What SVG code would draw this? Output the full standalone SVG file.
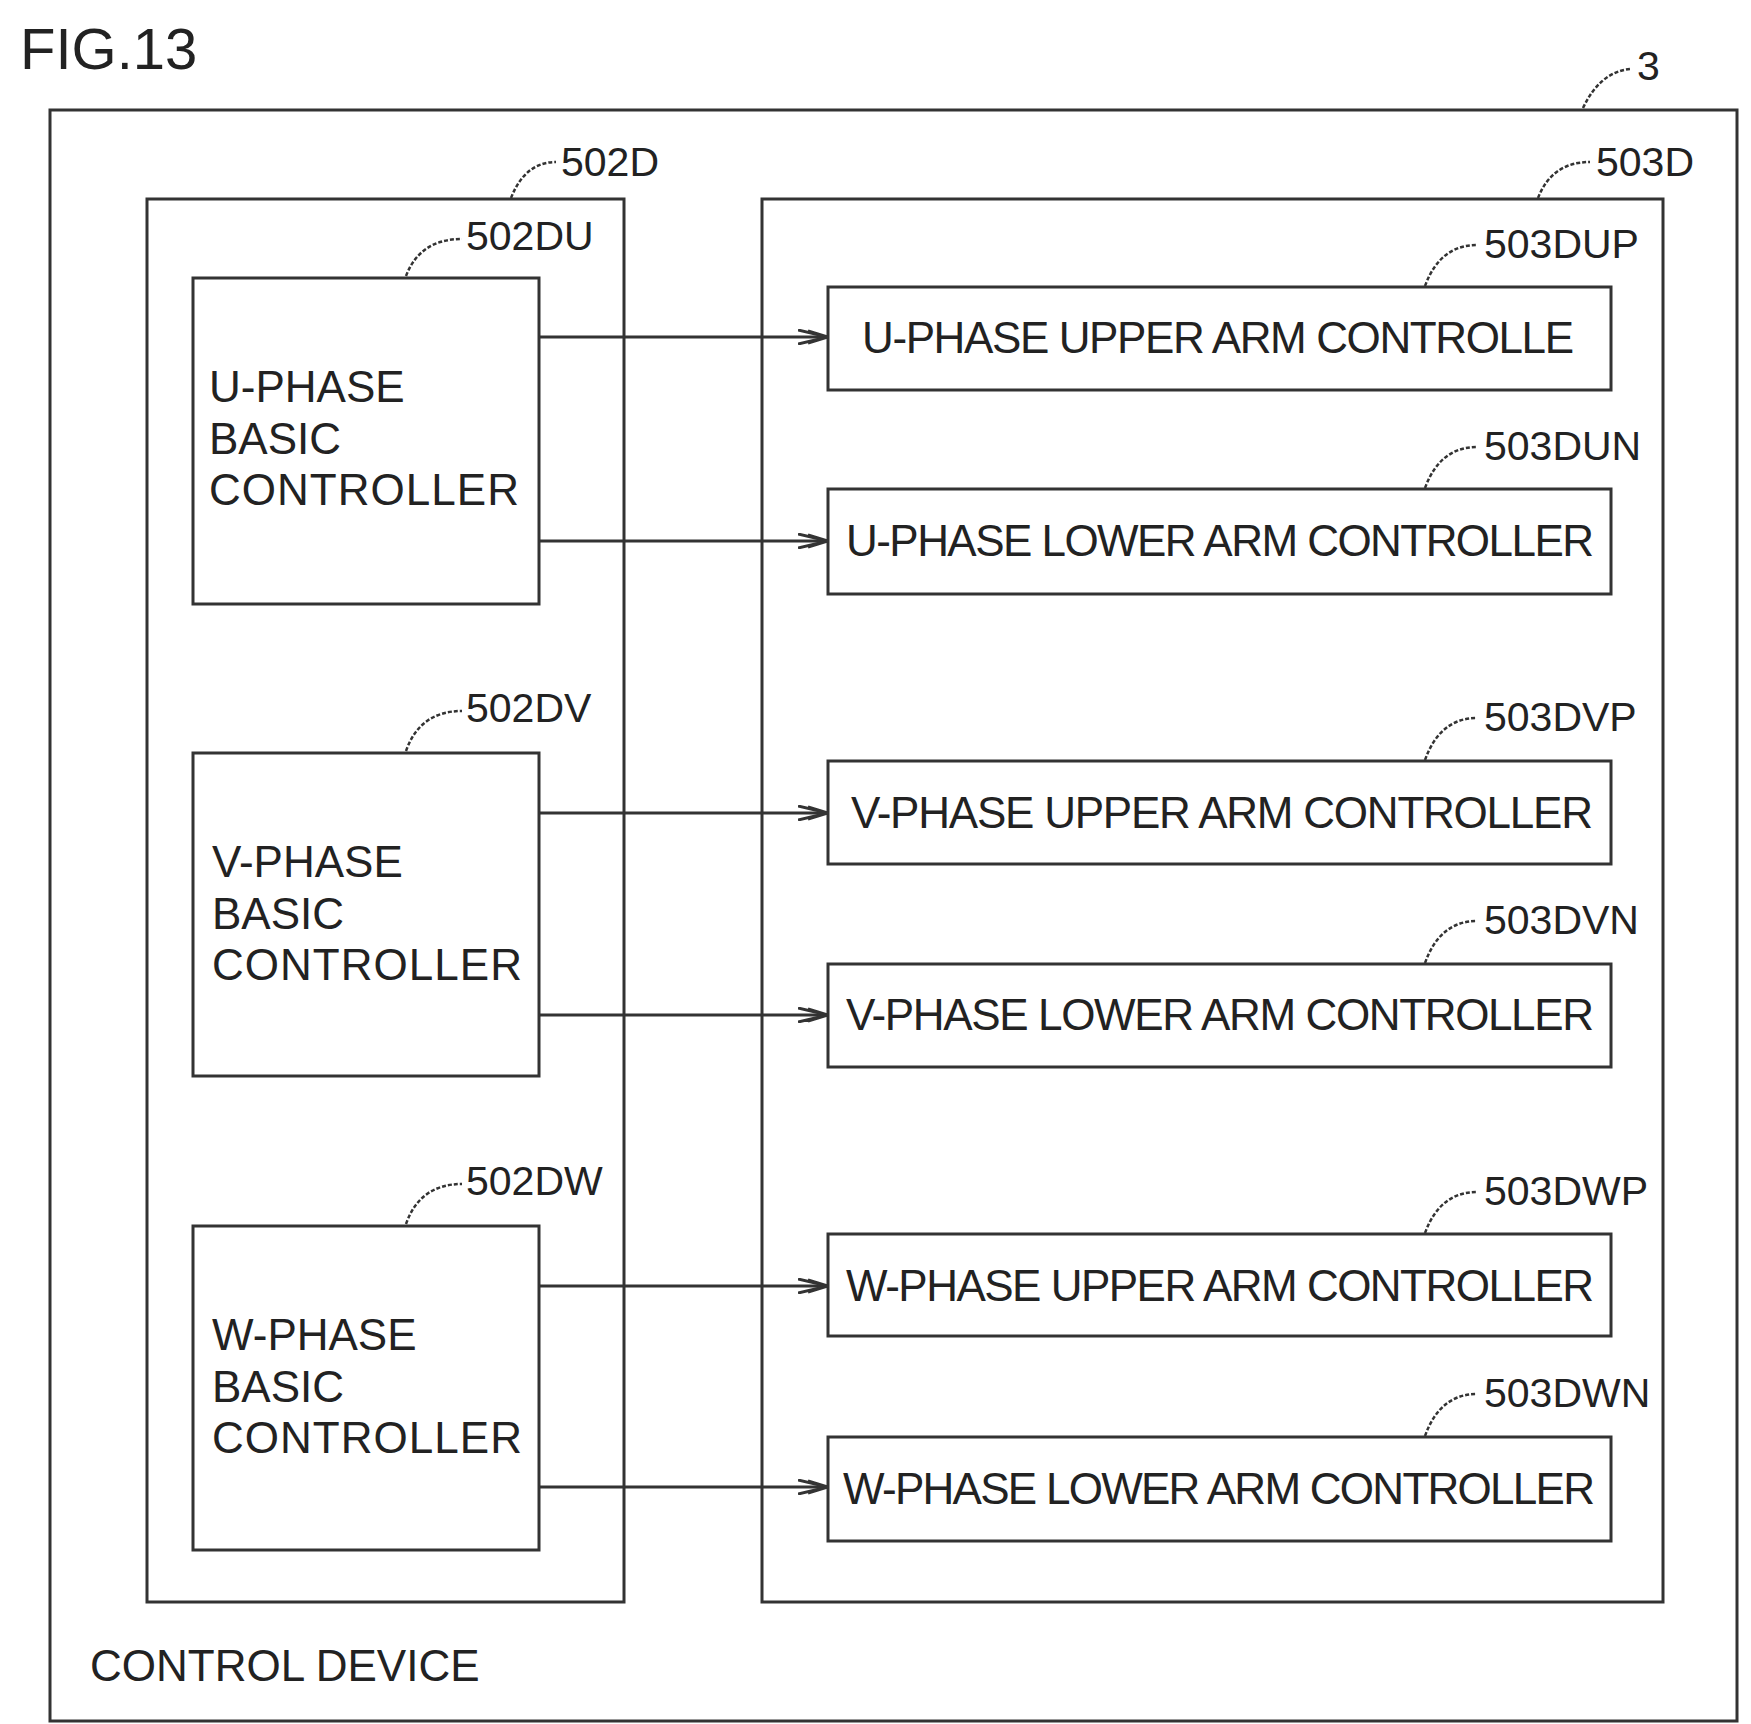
<svg xmlns="http://www.w3.org/2000/svg" width="1751" height="1724" viewBox="0 0 1751 1724">
<style>
.b{fill:none;stroke:#333;stroke-width:3}
.t{font-family:"Liberation Sans",Arial,sans-serif;font-size:44px;fill:#222}
.r{font-family:"Liberation Sans",Arial,sans-serif;font-size:41px;fill:#222}
.l{fill:none;stroke:#333;stroke-width:2.5;stroke-dasharray:4 2}
.c{fill:none;stroke:#333;stroke-width:3}
</style>
<defs><marker id="a" viewBox="0 0 30 16" refX="30" refY="8" markerWidth="30" markerHeight="16" markerUnits="userSpaceOnUse" orient="auto"><path d="M0,1 L30,8 L0,15 M10,2 L30,8 L10,14" fill="none" stroke="#333" stroke-width="3"/></marker></defs>
<rect width="1751" height="1724" fill="#fff"/>
<text x="20" y="69" font-family="Liberation Sans,Arial,sans-serif" font-size="58" fill="#222">FIG.13</text>
<g id="n3"><rect class="b" x="50" y="110" width="1687" height="1611"/>
<text class="r" x="1637" y="80">3</text><path class="l" d="M1583,108 Q1600,72 1630,69"/>
<text class="t" x="90" y="1681">CONTROL DEVICE</text></g>
<g id="n502D"><rect class="b" x="147" y="199" width="477" height="1403"/>
<text class="r" x="561" y="176">502D</text><path class="l" d="M511,198 Q525,162 556,162"/></g>
<g id="n503D"><rect class="b" x="762" y="199" width="901" height="1403"/>
<text class="r" x="1596" y="176">503D</text><path class="l" d="M1538,198 Q1552,162 1590,162"/></g>
<g id="n502DU"><rect class="b" x="193" y="278" width="346" height="326"/>
<text class="t" x="209" y="402">U-PHASE</text><text class="t" x="209" y="454">BASIC</text><text class="t" x="209" y="505" textLength="310">CONTROLLER</text>
<text class="r" x="466" y="250">502DU</text><path class="l" d="M406,276 Q420,239 462,239"/></g>
<g id="n502DV"><rect class="b" x="193" y="753" width="346" height="323"/>
<text class="t" x="212" y="877">V-PHASE</text><text class="t" x="212" y="929">BASIC</text><text class="t" x="212" y="980" textLength="310">CONTROLLER</text>
<text class="r" x="466" y="722">502DV</text><path class="l" d="M406,751 Q420,711 462,711"/></g>
<g id="n502DW"><rect class="b" x="193" y="1226" width="346" height="324"/>
<text class="t" x="212" y="1350">W-PHASE</text><text class="t" x="212" y="1402">BASIC</text><text class="t" x="212" y="1453" textLength="310">CONTROLLER</text>
<text class="r" x="466" y="1195">502DW</text><path class="l" d="M406,1224 Q420,1184 462,1184"/></g>
<g id="n503DUP"><rect class="b" x="828" y="287" width="783" height="103"/>
<text class="t" x="862" y="353" textLength="712">U-PHASE UPPER ARM CONTROLLE</text>
<text class="r" x="1484" y="258">503DUP</text><path class="l" d="M1425,286 Q1440,245 1477,245"/></g>
<g id="n503DUN"><rect class="b" x="828" y="489" width="783" height="105"/>
<text class="t" x="846" y="556" textLength="748">U-PHASE LOWER ARM CONTROLLER</text>
<text class="r" x="1484" y="460">503DUN</text><path class="l" d="M1425,488 Q1440,447 1477,447"/></g>
<g id="n503DVP"><rect class="b" x="828" y="761" width="783" height="103"/>
<text class="t" x="851" y="828" textLength="742">V-PHASE UPPER ARM CONTROLLER</text>
<text class="r" x="1484" y="731">503DVP</text><path class="l" d="M1425,760 Q1440,718 1477,718"/></g>
<g id="n503DVN"><rect class="b" x="828" y="964" width="783" height="103"/>
<text class="t" x="846" y="1030" textLength="748">V-PHASE LOWER ARM CONTROLLER</text>
<text class="r" x="1484" y="934">503DVN</text><path class="l" d="M1425,963 Q1440,921 1477,921"/></g>
<g id="n503DWP"><rect class="b" x="828" y="1234" width="783" height="102"/>
<text class="t" x="846" y="1301" textLength="748">W-PHASE UPPER ARM CONTROLLER</text>
<text class="r" x="1484" y="1205">503DWP</text><path class="l" d="M1425,1233 Q1440,1192 1477,1192"/></g>
<g id="n503DWN"><rect class="b" x="828" y="1437" width="783" height="104"/>
<text class="t" x="843" y="1504" textLength="752">W-PHASE LOWER ARM CONTROLLER</text>
<text class="r" x="1484" y="1407">503DWN</text><path class="l" d="M1425,1436 Q1440,1394 1477,1394"/></g>
<g id="connectors">
<line class="c" x1="539" y1="337" x2="828" y2="337" marker-end="url(#a)"/>
<line class="c" x1="539" y1="541" x2="828" y2="541" marker-end="url(#a)"/>
<line class="c" x1="539" y1="813" x2="828" y2="813" marker-end="url(#a)"/>
<line class="c" x1="539" y1="1015" x2="828" y2="1015" marker-end="url(#a)"/>
<line class="c" x1="539" y1="1286" x2="828" y2="1286" marker-end="url(#a)"/>
<line class="c" x1="539" y1="1487" x2="828" y2="1487" marker-end="url(#a)"/>
</g>
</svg>
